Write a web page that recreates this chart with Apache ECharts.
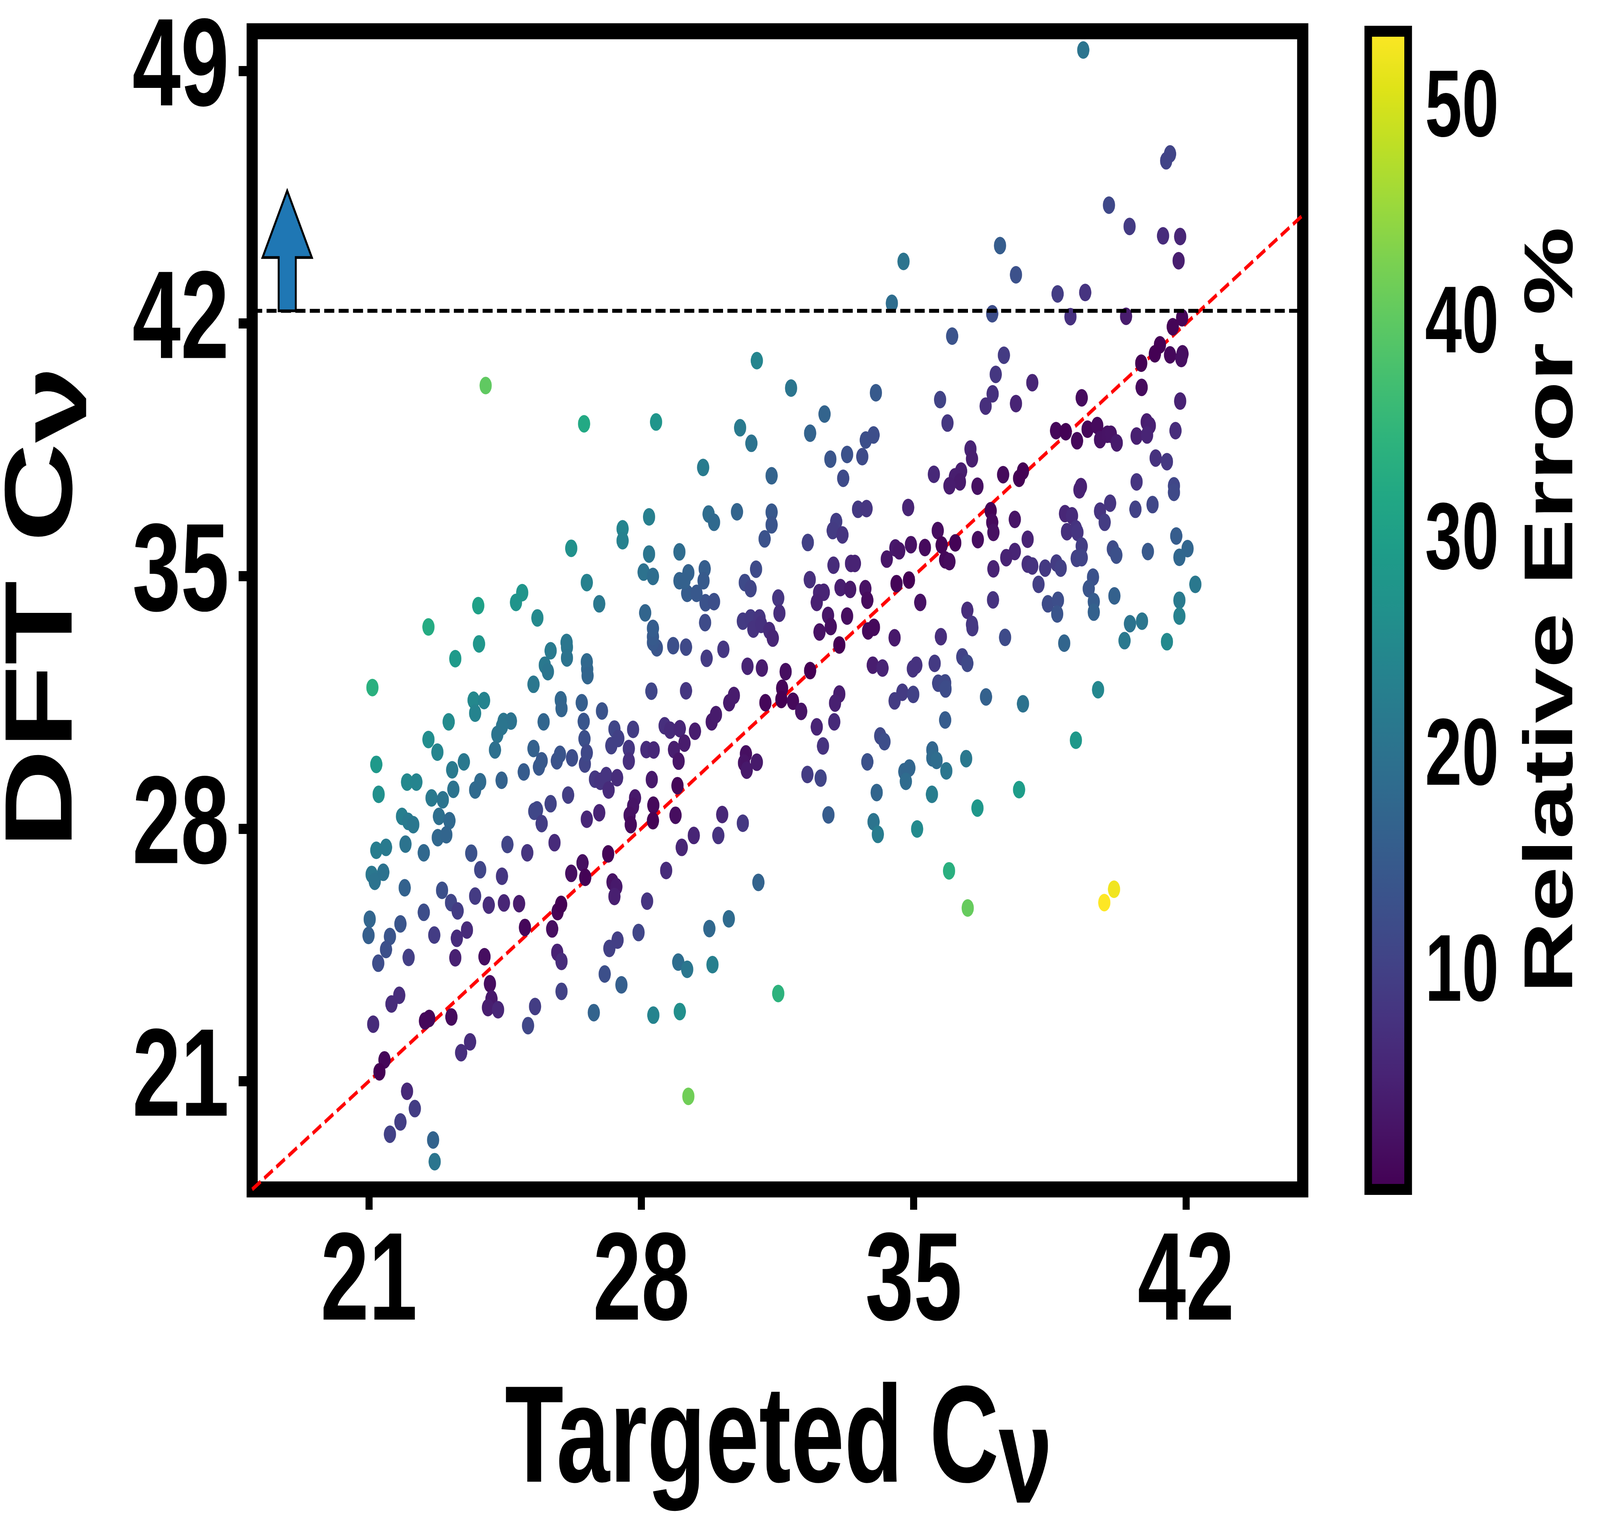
<!DOCTYPE html>
<html>
<head>
<meta charset="utf-8">
<title>DFT Cv vs Targeted Cv</title>
<script src="https://cdn.jsdelivr.net/npm/echarts@6/dist/echarts.min.js"></script>
<style>
  html, body { margin: 0; padding: 0; background: #fff; overflow: hidden; }
  #chart { width: 5888px; height: 3922px; transform-origin: 0 0; }
</style>
</head>
<body>
<div id="chart"></div>
<script>
// [targeted Cv, DFT Cv], grouped by region
var upperPoints = [
  [34.74,43.72],[34.44,42.56],[30.97,40.97],[31.85,40.21],[34.03,40.08],[24.0,40.28],
  [39.36,49.58],[41.59,46.70],[41.49,46.51],[40.02,45.28],[40.55,44.69],[41.41,44.43],[41.85,44.41],
  [41.81,43.74],[37.22,44.16],[37.63,43.35],[38.70,42.82],[39.41,42.86],[37.02,42.27],[39.03,42.19],
  [40.46,42.20],[35.99,41.65],[41.90,42.16],[41.66,41.91],[41.33,41.41],[41.20,41.16],[40.85,40.90],
  [41.59,41.13],[41.91,41.16],[41.88,41.03],[40.86,40.23],[39.32,39.94],[41.85,39.85],[37.32,41.12],
  [37.11,40.59],[37.03,40.05],[36.85,39.71],[37.63,39.78],[38.05,40.36],[35.68,39.89]
];
var rightPoints = [
  [35.87,39.24],[38.66,39.03],[38.91,39.00],[39.20,38.75],[39.47,39.07],[39.72,39.17],[39.79,38.78],
  [39.98,38.93],[40.07,38.93],[40.22,38.69],[40.73,38.88],[40.99,39.27],[41.07,39.17],[41.00,38.91],
  [41.73,39.03],[41.22,38.27],[41.51,38.17],[40.73,37.61],[41.69,37.50],[41.69,37.32],[41.14,36.98],
  [40.70,36.85],[41.75,36.11],[42.04,35.76],[41.83,35.52],[42.24,34.77],[41.83,34.33],[41.83,33.89],
  [41.02,35.68],[40.87,33.75],[40.56,33.68],[40.42,33.21],[41.51,33.18],[40.16,34.45],[40.12,35.75],
  [40.21,35.58],[40.05,37.02],[39.79,36.80],[39.91,36.49],[39.30,37.48],[39.26,37.39],[38.89,36.73],
  [39.07,36.67],[38.94,36.23],[39.17,36.31],[39.21,36.21],[39.32,35.83],[39.19,35.49],[39.32,35.51],
  [39.61,34.97],[39.50,34.65],[39.63,34.29],[39.63,34.00],[38.67,35.36],[38.78,35.22],[38.38,35.22],
  [37.93,35.33],[38.05,35.28],[38.21,34.77],[38.45,34.23],[38.71,34.33],[38.69,33.95],[38.87,33.14],
  [37.93,36.02],[37.60,35.68],[37.38,35.51],[37.60,36.57],[37.30,37.81],[37.81,37.91],[37.71,37.71],
  [36.98,36.81],[37.02,36.49],[37.05,36.21],[36.65,36.01],[37.05,35.20],[37.04,34.34],[36.46,38.52],
  [36.50,38.25],[36.22,37.91],[36.06,37.75],[36.19,37.61],[35.92,37.50],[36.64,37.49],[35.52,37.82],
  [35.62,36.26],[35.72,35.86],[36.07,35.92],[35.81,35.45],[35.92,35.40],[35.29,35.79],[36.38,34.05],
  [36.50,33.66],[36.51,33.57],[35.70,33.32],[37.35,33.30],[36.25,32.76],[36.38,32.58],[35.54,32.58],
  [35.63,32.03],[35.81,32.04],[35.82,31.87],[36.86,31.65],[37.81,31.46],[39.74,31.85],[35.81,31.01],
  [39.17,30.45],[35.48,30.18],[35.48,29.96],[35.59,29.89],[36.35,29.94],[35.84,29.60],[37.71,29.08],
  [35.47,28.95],[36.64,28.57],[35.91,26.83],[36.39,25.80],[39.90,25.95],[40.15,26.32]
];
var middlePoints = [
  [28.38,39.27],[30.54,39.11],[30.83,38.68],[29.59,38.01],[31.35,37.78],[32.34,38.96],[32.71,39.49],
  [33.77,38.77],[33.97,38.91],[33.29,38.37],[32.86,38.24],[33.68,38.31],[33.19,37.71],[33.57,36.85],
  [33.79,36.87],[34.86,36.90],[33.01,36.51],[32.92,36.26],[33.17,36.14],[32.28,35.93],[32.94,35.30],
  [33.39,35.35],[33.49,35.35],[34.31,35.47],[34.53,35.78],[34.63,35.70],[34.93,35.87],[34.56,34.79],
  [34.88,34.89],[35.17,34.27],[32.33,34.90],[32.57,34.54],[32.69,34.55],[32.51,34.27],[33.12,34.68],
  [33.37,34.63],[33.76,34.65],[33.81,34.33],[32.80,33.91],[32.87,33.60],[32.58,33.45],[33.29,33.89],
  [33.09,33.09],[33.83,33.48],[33.98,33.58],[34.51,33.29],[32.34,32.38],[31.71,32.35],[31.62,31.89],
  [31.60,31.58],[31.19,31.49],[31.90,31.53],[32.11,31.25],[30.73,32.50],[31.10,32.45],[33.95,32.53],
  [34.20,32.45],[34.98,32.43],[35.07,32.53],[33.09,31.73],[32.98,31.48],[32.96,30.96],[32.51,30.82],
  [32.67,30.29],[34.71,31.78],[34.51,31.54],[34.99,31.72],[34.14,30.57],[34.25,30.41],[33.81,29.85],
  [34.89,29.68],[34.76,29.58],[34.80,29.31],[32.27,29.50],[32.61,29.40],[30.69,30.07],[30.64,29.82],
  [30.71,29.62],[30.97,29.84],[28.27,29.36],[28.93,29.19],[28.60,30.85],[28.74,30.73],[28.99,30.77],
  [29.11,30.37],[28.84,30.19],[28.96,29.87],[29.38,30.70],[28.13,30.19],[28.32,30.18],[29.81,30.96],
  [29.92,31.16],[30.26,31.49],[30.38,31.69],[28.26,31.81],[29.15,31.82],[29.68,32.72],[30.11,32.97],
  [28.82,33.07],[29.15,33.03],[28.40,33.01],[28.30,33.16],[28.30,33.32],[28.30,33.55],[28.10,33.98],
  [29.64,33.71],[29.65,34.26],[29.87,34.29],[29.18,34.52],[29.42,34.52],[28.98,34.87],[29.21,35.09],
  [29.11,34.87],[29.63,35.20],[29.60,34.87],[28.98,35.67],[28.06,35.11],[28.30,34.99],[28.20,35.61],
  [28.20,36.64],[29.73,36.72],[29.87,36.49],[30.46,36.78],[31.35,36.77],[31.35,36.42],[31.17,36.03],
  [30.95,35.19],[30.66,34.82],[30.81,34.65],[31.52,34.39],[31.55,33.97],[30.61,33.75],[30.81,33.84],
  [31.04,33.84],[30.88,33.53],[31.08,33.66],[31.29,33.49],[31.38,33.28],
  [28.31,28.65],[28.30,28.22],[28.88,28.37],[30.08,28.39],[30.61,28.15],[29.35,27.81],[29.98,27.81],
  [29.04,27.48],[28.64,26.84],[28.15,25.99],[31.01,26.51],[30.25,25.50],[29.75,25.23],[28.95,24.30],
  [29.18,24.10],[29.83,24.23],[31.52,23.43],[28.31,22.83],[28.99,22.93],[29.21,20.58],[32.81,28.38],
  [34.05,29.00],[33.97,28.19],[34.08,27.84],[35.09,27.99]
];
var leftPoints = [
  [26.53,39.22],[27.52,36.31],[27.52,35.98],[26.20,35.77],[26.60,34.82],[26.92,34.23],[24.94,34.54],
  [24.78,34.27],[23.81,34.18],[22.53,33.59],[25.33,33.84],[23.83,33.12],[23.22,32.71],[21.09,31.91],
  [26.08,33.16],[26.09,33.03],[26.09,32.73],[25.67,32.93],[25.52,32.53],[25.60,32.35],[26.60,32.62],
  [26.61,32.42],[26.62,32.24],[25.23,32.00],[25.93,31.57],[25.95,31.33],[26.47,31.49],[26.99,31.26],
  [26.52,30.97],[27.31,30.76],[27.41,30.50],[27.79,30.75],[26.54,30.49],[25.49,30.96],[23.69,31.56],
  [23.96,31.55],[23.73,31.20],[23.05,30.96],[24.46,30.97],[24.65,30.98],[24.42,30.83],[24.30,30.61],
  [22.53,30.47],
  [21.19,29.78],[21.25,28.95],[21.98,29.29],[22.22,29.29],[22.76,30.12],[23.14,29.63],[23.44,29.85],
  [23.17,29.09],[24.24,30.18],[23.86,29.30],[23.73,29.07],[24.41,29.34],[22.61,28.85],[22.90,28.80],
  [21.85,28.34],[22.01,28.20],[22.14,28.11],[22.80,28.34],[23.07,28.22],[22.77,27.75],[22.99,27.83],
  [21.19,27.40],[21.44,27.48],[21.94,27.57],[22.41,27.33],[21.07,26.73],[21.15,26.54],[21.37,26.79],
  [21.92,26.36],[21.02,25.49],[20.99,25.04],[21.81,25.36],[21.54,25.01],[21.44,24.65],[21.24,24.27],
  [22.02,24.43],[22.41,25.68],[22.68,25.05],[22.88,26.29],[23.11,25.95],[23.28,25.72],[23.63,27.32],
  [23.86,26.86],[23.73,26.13],[24.08,25.88],[24.47,25.94],[24.86,25.92],[24.42,26.68],[24.56,27.56],
  [25.07,27.33],[24.98,29.57],[25.23,30.22],[25.37,29.71],[25.44,29.88],[25.83,29.88],[25.91,30.06],
  [26.22,29.96],[26.55,29.79],[26.60,30.10],[27.23,30.30],[27.68,30.22],[27.68,29.87],[26.81,29.37],
  [26.95,29.31],[27.10,29.47],[27.16,29.07],[27.38,29.41],[26.12,28.93],[25.67,28.69],[25.32,28.52],
  [25.25,28.48],[25.44,28.14],[25.77,27.61],[26.60,28.26],[26.92,28.44],[27.84,28.85],[27.79,28.62],
  [27.70,28.37],[27.73,28.11],[27.15,27.30],[26.49,27.05],[26.56,26.65],[26.20,26.76],[27.26,26.52],
  [27.36,26.39],[27.31,26.12],[27.93,25.12],[25.85,25.70],[25.94,25.90],[25.71,25.22],[25.01,25.26],
  [25.84,24.57],[25.95,24.32],[23.97,24.45],[23.22,24.42],[23.52,25.19],[23.26,24.96],[24.11,23.70],
  [24.15,23.28],[24.06,23.04],[24.32,22.98],[27.06,23.97],[27.18,24.68],[27.39,24.91],[27.49,23.67],
  [26.78,22.90],[25.95,23.49],[25.27,23.07],[25.09,22.54],[23.12,22.78],[22.55,22.74],[22.44,22.67],
  [21.78,23.38],[21.58,23.14],[21.11,22.58],[23.60,22.09],[23.37,21.79],[21.40,21.59],[21.27,21.26],
  [21.98,20.72],[22.18,20.24],[21.81,19.87],[21.54,19.53],[22.65,19.37],[22.69,18.77]
];

var xLim = [18.0, 45.0];
var yLim = [18.0, 50.1];
var xTicks = [21, 28, 35, 42];
var yTicks = [21, 28, 35, 42, 49];
var cbLim = [0.05, 53.65];
var cbTicks = [10, 20, 30, 40, 50];
var thresholdCv = 42.35;
// up arrow drawn above the threshold line, in data units
var arrow = { x: 18.9, base: 42.35, neck: 43.83, tip: 45.68, headHalf: 0.633, shaftHalf: 0.22 };

var viridis = ['#440154', '#471365', '#482475', '#463480', '#414487', '#3b528b', '#355f8d',
  '#2f6c8e', '#2a788e', '#25848e', '#21918c', '#1e9c89', '#22a884', '#2fb47c', '#44bf70',
  '#5ec962', '#7ad151', '#9bd93c', '#bddf26', '#dfe318', '#fde725'];

var FONT = '"Liberation Sans", Arial, Helvetica, sans-serif';

// the figure is laid out at 5888x3922; squeeze it into the real window if that is smaller
var W = 5888, H = 3922;
var box = document.getElementById('chart');
var sx = Math.min(1, window.innerWidth / W), sy = Math.min(1, window.innerHeight / H);
if (sx < 1 || sy < 1) {
  box.style.transform = 'scale(' + sx + ',' + sy + ')';
}

// relative error % of each point, as the colour bar defines it
var allPoints = upperPoints.concat(rightPoints, middlePoints, leftPoints);
var scatterData = allPoints.map(function (p) {
  return [p[0], p[1], Math.abs(p[1] - p[0]) / p[1] * 100];
});

var chart = echarts.init(box);

var gradStops = viridis.map(function (c, i) {
  return { offset: i / (viridis.length - 1), color: c };
});

function tickLabel(size, margin) {
  return { fontSize: size, fontWeight: 'bold', fontFamily: FONT, color: '#000', margin: margin };
}

var titleRich = {
  n: { fontSize: 353, fontWeight: 'bold', fontFamily: FONT, fill: '#000', lineHeight: 460 },
  s: { fontSize: 353, fontWeight: 'bold', fontFamily: FONT, fill: '#000', lineHeight: 360, verticalAlign: 'bottom' }
};

var option = {
  animation: false,
  backgroundColor: '#fff',
  grid: [
    { left: 928, top: 80, width: 3866, height: 2965, show: true,
      borderColor: '#000', borderWidth: 41, backgroundColor: 'rgba(0,0,0,0)' },
    { left: 5035, top: 80, width: 147, height: 2965, show: false }
  ],
  xAxis: [
    {
      gridIndex: 0, type: 'value', min: xLim[0], max: xLim[1],
      splitLine: { show: false }, axisLine: { show: false },
      axisTick: { show: true, length: 52, customValues: xTicks, lineStyle: { color: '#000', width: 26 } },
      axisLabel: Object.assign({ customValues: xTicks }, tickLabel(320, 85))
    },
    { gridIndex: 1, type: 'value', min: 0, max: 1, show: false }
  ],
  yAxis: [
    {
      gridIndex: 0, type: 'value', min: yLim[0], max: yLim[1],
      splitLine: { show: false }, axisLine: { show: false },
      axisTick: { show: true, length: 50, customValues: yTicks, lineStyle: { color: '#000', width: 26 } },
      axisLabel: Object.assign({ customValues: yTicks }, tickLabel(320, 85))
    },
    {
      gridIndex: 1, type: 'value', position: 'right', min: cbLim[0], max: cbLim[1],
      splitLine: { show: false }, axisLine: { show: false },
      axisTick: { show: true, length: 36, customValues: cbTicks, lineStyle: { color: '#000', width: 20 } },
      axisLabel: Object.assign({ customValues: cbTicks }, tickLabel(244, 62))
    }
  ],
  visualMap: {
    type: 'continuous', show: false, seriesIndex: 0, dimension: 2,
    min: cbLim[0], max: cbLim[1], inRange: { color: viridis }
  },
  series: [
    {
      type: 'scatter', xAxisIndex: 0, yAxisIndex: 0,
      data: scatterData, symbolSize: 45, z: 3,
      itemStyle: { opacity: 1 }
    },
    {
      // parity line y = x
      type: 'line', xAxisIndex: 0, yAxisIndex: 0, z: 2,
      data: [[xLim[0], xLim[0]], [xLim[1], xLim[1]]],
      symbol: 'none', silent: true,
      lineStyle: { color: '#ff0000', width: 10, type: [37, 16] }
    },
    {
      type: 'line', xAxisIndex: 0, yAxisIndex: 0, z: 4,
      data: [[xLim[0], thresholdCv], [xLim[1], thresholdCv]],
      symbol: 'none', silent: true,
      lineStyle: { color: '#000', width: 10, type: [37, 16] }
    },
    {
      type: 'custom', xAxisIndex: 0, yAxisIndex: 0, z: 5,
      data: [[arrow.x, arrow.tip]],
      renderItem: function (params, api) {
        var p = function (x, y) { return api.coord([x, y]); };
        var a = arrow;
        return {
          type: 'polygon',
          shape: { points: [
            p(a.x - a.shaftHalf, a.base), p(a.x - a.shaftHalf, a.neck), p(a.x - a.headHalf, a.neck),
            p(a.x, a.tip), p(a.x + a.headHalf, a.neck), p(a.x + a.shaftHalf, a.neck),
            p(a.x + a.shaftHalf, a.base)
          ] },
          style: { fill: '#1f77b4', stroke: '#000', lineWidth: 7, lineJoin: 'miter' }
        };
      }
    },
    {
      // colour bar
      type: 'custom', xAxisIndex: 1, yAxisIndex: 1, z: 2,
      data: [[0, cbLim[0]]],
      renderItem: function (params, api) {
        var lo = api.coord([0, cbLim[0]]);
        var hi = api.coord([1, cbLim[1]]);
        var shape = { x: lo[0], y: hi[1], width: hi[0] - lo[0], height: lo[1] - hi[1] };
        return {
          type: 'group',
          children: [
            { type: 'rect', shape: shape,
              style: { fill: new echarts.graphic.LinearGradient(0, 1, 0, 0, gradStops) } },
            { type: 'rect', shape: shape, style: { fill: 'none', stroke: '#000', lineWidth: 28 } }
          ]
        };
      }
    }
  ],
  graphic: [
    {
      type: 'text', x: 2865, y: 3696,
      style: { text: '{n|Targeted C}{s|ν}', align: 'center', verticalAlign: 'middle', rich: titleRich }
    },
    {
      type: 'text', x: 166, y: 1555, rotation: Math.PI / 2,
      style: { text: '{n|DFT C}{s|ν}', align: 'center', verticalAlign: 'middle', rich: titleRich }
    },
    {
      type: 'text', x: 5716, y: 1562, rotation: Math.PI / 2,
      style: {
        text: 'Relative Error %', align: 'center', verticalAlign: 'middle',
        fontSize: 254, fontWeight: 'bold', fontFamily: FONT, fill: '#000'
      }
    }
  ]
};

chart.setOption(option);
</script>
</body>
</html>
